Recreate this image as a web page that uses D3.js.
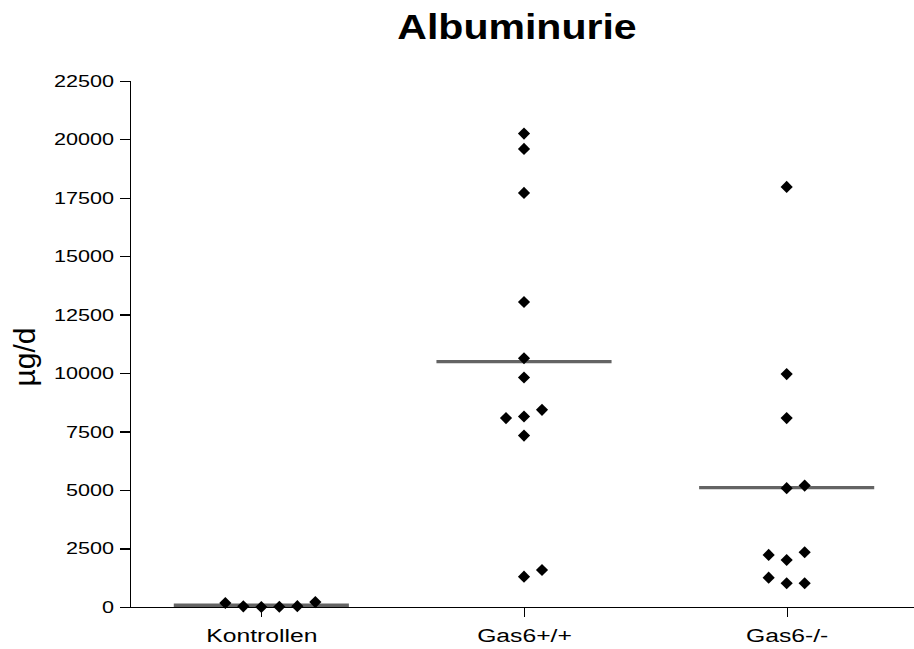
<!DOCTYPE html>
<html lang="de">
<head>
<meta charset="utf-8">
<title>Albuminurie</title>
<script src="https://cdnjs.cloudflare.com/ajax/libs/d3/7.8.5/d3.min.js"></script>
<style>
  body { margin: 0; background: #fff; }
  svg { font-family: "Liberation Sans", Arial, sans-serif; }
  .axis path, .axis line { stroke: #000; stroke-width: 1.3px; shape-rendering: crispEdges; }
  .axis text { fill: #000; }
  .mean { stroke: #646464; stroke-width: 3.3px; }
</style>
</head>
<body>
<div id="chart"></div>
<script>
// groups and their measured values (µg/d), in plotting order
var categories = ["Kontrollen", "Gas6+/+", "Gas6-/-"];
var kontrollen = [0, 10, 30, 35, 170, 210];
var gas6WT = [20240, 19585, 17702, 13038, 10633, 9812, 8143, 8430, 8075, 7330, 1297, 1583];
var gas6KO = [17960, 9957, 8075, 5079, 5190, 2011, 2340, 2225, 1014, 1014, 1254];
var yTicks = [0, 2500, 5000, 7500, 10000, 12500, 15000, 17500, 20000, 22500];
var title = "Albuminurie";
var yLabel = "µg/d";

var seriesValues = [kontrollen, gas6WT, gas6KO];

var width = 914, height = 649;
var svg = d3.select("#chart").append("svg")
    .attr("width", width)
    .attr("height", height);

var x = d3.scalePoint()
    .domain(categories)
    .range([130, 918])
    .padding(0.5);

var y = d3.scaleLinear()
    .domain([0, 22500])
    .range([607, 80.7]);

// title
svg.append("text")
    .attr("transform", "translate(517,39) scale(1.14,1)")
    .attr("text-anchor", "middle")
    .attr("font-size", 36)
    .attr("font-weight", "bold")
    .text(title);

// y label
svg.append("text")
    .attr("transform", "translate(35,357) rotate(-90)")
    .attr("text-anchor", "middle")
    .attr("font-size", 30)
    .text(yLabel);

// axes
var yAxis = d3.axisLeft(y).tickValues(yTicks).tickSize(10).tickSizeOuter(0).tickFormat(d3.format("d"));
var gy = svg.append("g")
    .attr("class", "y axis")
    .attr("transform", "translate(130,0)")
    .call(yAxis);
gy.selectAll("text")
    .attr("x", null)
    .attr("font-size", 17)
    .attr("transform", "translate(-16,0) scale(1.27,1)");

var xAxis = d3.axisBottom(x).tickSize(10).tickSizeOuter(0);
var gx = svg.append("g")
    .attr("class", "x axis")
    .attr("transform", "translate(0," + y(0) + ")")
    .call(xAxis);
gx.selectAll("text")
    .attr("y", null)
    .attr("dy", null)
    .attr("font-size", 19)
    .attr("transform", "translate(0,35) scale(1.3,1)");
gx.select(".domain").attr("d", "M130,0.5H918");

// mean lines
var halfLen = x.step() / 3;
svg.append("g").selectAll("line")
  .data(categories)
  .enter()
  .append("line")
    .attr("class", "mean")
    .attr("x1", function(d) { return x(d) - halfLen; })
    .attr("x2", function(d) { return x(d) + halfLen; })
    .attr("y1", function(d, i) { return y(d3.mean(seriesValues[i])); })
    .attr("y2", function(d, i) { return y(d3.mean(seriesValues[i])); });

// spread points that sit on the same row: 0, +1, -1, +2, -2, ...
var jitter = 18;
var points = [];
categories.forEach(function(cat, ci) {
  var rows = [];
  seriesValues[ci].forEach(function(v) {
    var py = y(v);
    var row = rows.find(function(r) { return Math.abs(r.y - py) < 14; });
    if (!row) { row = {y: py, n: 0}; rows.push(row); }
    var k = row.n++;
    var slot = k === 0 ? 0 : (k % 2 === 1 ? (k + 1) / 2 : -k / 2);
    points.push({cat: cat, value: v, slot: slot});
  });
});

var diamond = d3.symbol().type(d3.symbolSquare).size(74);
svg.append("g").selectAll("path")
  .data(points)
  .enter()
  .append("path")
    .attr("d", diamond)
    .attr("fill", "#000")
    .attr("transform", function(d) {
      return "translate(" + (x(d.cat) + d.slot * jitter) + "," + y(d.value) + ") rotate(45)";
    });
</script>
</body>
</html>
